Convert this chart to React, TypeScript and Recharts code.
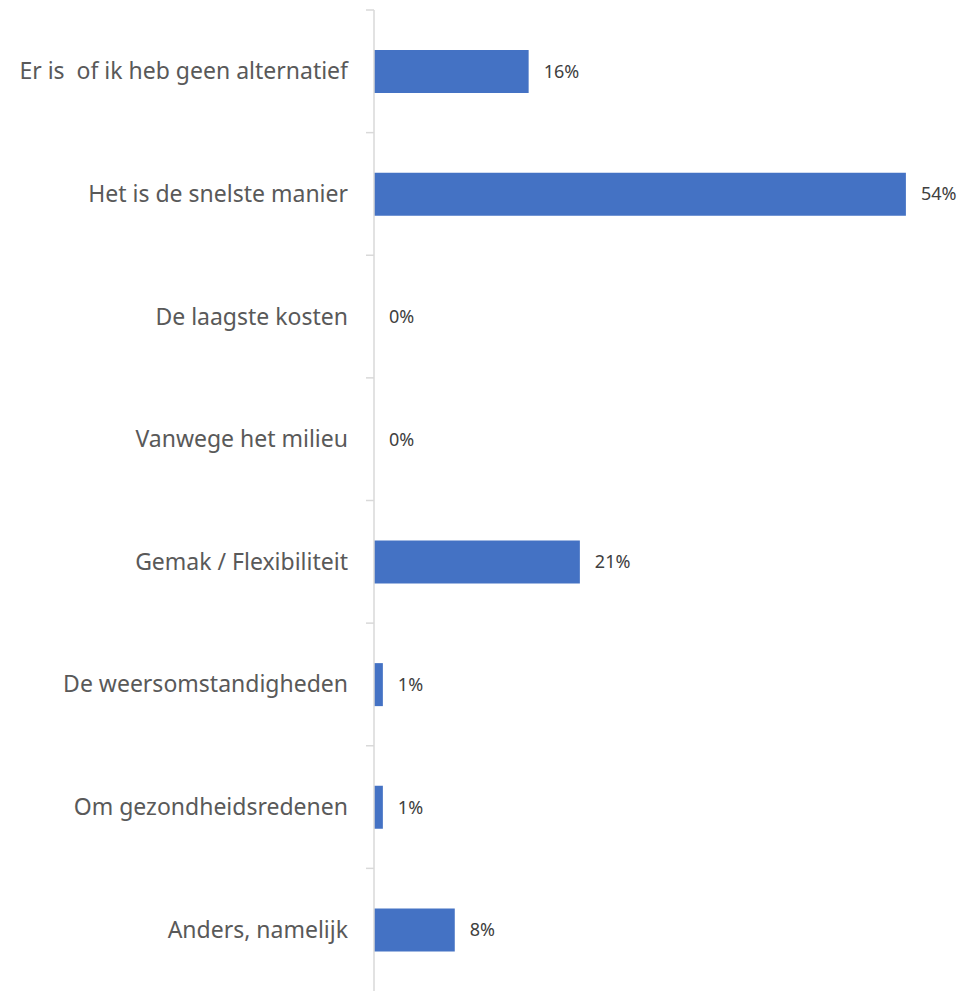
import { BarChart, Bar, XAxis, YAxis } from 'recharts'

const categories = [
  'Er is  of ik heb geen alternatief',
  'Het is de snelste manier',
  'De laagste kosten',
  'Vanwege het milieu',
  'Gemak / Flexibiliteit',
  'De weersomstandigheden',
  'Om gezondheidsredenen',
  'Anders, namelijk',
]
const shares = [15.7, 54, 0, 0, 20.9, 0.9, 0.9, 8.2]

const data = categories.map((name, i) => ({ name, value: shares[i] }))

const W = 978
const H = 991
const TOP = 10
const band = (H - TOP) / categories.length

function CategoryTick(props: any) {
  const { x, y, payload } = props
  const axisX = x + 8
  return (
    <g>
      <line x1={axisX - 8} x2={axisX} y1={y - band / 2} y2={y - band / 2} stroke="#d9d9d9" strokeWidth={1.5} />
      <text
        x={axisX - 26}
        y={y}
        dy="0.35em"
        textAnchor="end"
        fill="#595959"
        fontSize={23}
        fontFamily="'Noto Sans', sans-serif"
        style={{ whiteSpace: 'pre' }}
      >
        {payload.value}
      </text>
    </g>
  )
}

function ValueLabel(props: any) {
  const { x, y, width, height, value } = props
  return (
    <text
      x={Number(x) + Number(width || 0) + 15}
      y={Number(y) + Number(height) / 2}
      dy="0.35em"
      fill="#404040"
      fontSize={18}
      fontFamily="'Noto Sans', sans-serif"
    >
      {`${Math.round(Number(value))}%`}
    </text>
  )
}

export default function App() {
  return (
    <div style={{ position: 'absolute', left: 0, top: 0, background: '#fff' }}>
      <BarChart
        width={W}
        height={H}
        data={data}
        layout="vertical"
        margin={{ top: TOP, right: 13, left: 0, bottom: 0 }}
      >
        <XAxis type="number" domain={[0, 60]} hide />
        <YAxis
          type="category"
          dataKey="name"
          width={374}
          axisLine={{ stroke: '#d9d9d9', strokeWidth: 1.5 }}
          tickLine={false}
          tick={<CategoryTick />}
          interval={0}
        />
        <Bar
          dataKey="value"
          fill="#4472c4"
          barSize={43}
          minPointSize={0.01}
          isAnimationActive={false}
          label={<ValueLabel />}
        />
      </BarChart>
    </div>
  )
}
